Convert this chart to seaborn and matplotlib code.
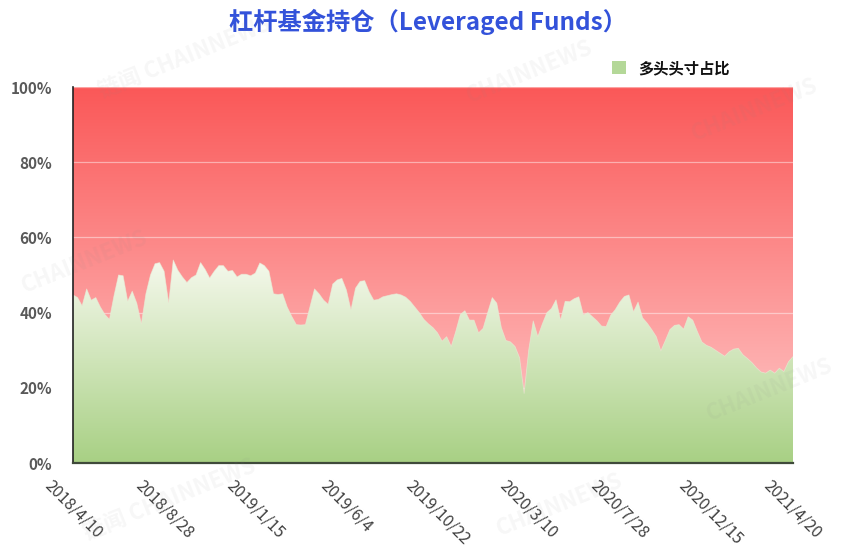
import numpy as np
import pandas as pd
import matplotlib
matplotlib.use("Agg")
import matplotlib.pyplot as plt
import seaborn as sns
from matplotlib.colors import LinearSegmentedColormap
from matplotlib.patches import Patch

# ---- data (weekly long-position share of leveraged funds, %) ----
long_share = [
    44.7, 44.0, 41.8, 46.3, 43.3, 44.0, 41.5, 39.5, 38.2, 44.5,
    50.0, 49.8, 43.0, 45.7, 42.5, 37.0, 45.0, 50.0, 53.0, 53.3,
    51.0, 42.5, 54.0, 51.3, 49.5, 48.0, 49.3, 50.0, 53.3, 51.5,
    49.2, 51.0, 52.5, 52.5, 51.0, 51.2, 49.5, 50.2, 50.2, 49.8,
    50.5, 53.2, 52.5, 51.0, 45.0, 44.8, 45.0, 41.5, 39.0, 36.8,
    36.7, 36.8, 41.5, 46.3, 45.0, 43.3, 42.2, 47.6, 48.7, 49.1,
    46.0, 40.7, 46.5, 48.3, 48.5, 45.5, 43.3, 43.5, 44.2, 44.5,
    44.8, 45.0, 44.7, 44.1, 43.0, 41.5, 40.0, 38.2, 37.0, 36.0,
    34.6, 32.4, 33.6, 31.0, 35.0, 39.5, 40.5, 38.0, 38.0, 34.6,
    35.8, 40.0, 44.0, 42.5, 36.0, 32.6, 32.2, 31.0, 28.0, 18.5,
    30.0, 37.8, 33.6, 37.0, 40.0, 41.1, 43.4, 38.0, 43.0, 42.9,
    43.7, 44.2, 39.4, 40.0, 38.9, 37.8, 36.4, 36.3, 39.3, 40.8,
    42.8, 44.3, 44.7, 40.2, 42.8, 38.6, 37.2, 35.5, 33.6, 29.8,
    32.6, 35.5, 36.6, 36.8, 35.6, 38.9, 38.0, 35.0, 32.2, 31.3,
    30.8, 30.0, 29.2, 28.4, 29.6, 30.3, 30.5, 28.8, 27.8, 26.7,
    25.3, 24.2, 23.9, 24.7, 23.9, 25.2, 24.3, 26.9, 28.3,
]
weeks = pd.date_range("2018-04-10", periods=len(long_share), freq="7D")
tick_dates = ["2018-04-10", "2018-08-28", "2019-01-15", "2019-06-04", "2019-10-22",
              "2020-03-10", "2020-07-28", "2020-12-15", "2021-04-20"]
tick_labels = ["2018/4/10", "2018/8/28", "2019/1/15", "2019/6/4", "2019/10/22",
               "2020/3/10", "2020/7/28", "2020/12/15", "2021/4/20"]
y_ticks = [0, 20, 40, 60, 80, 100]
y_labels = ["0%", "20%", "40%", "60%", "80%", "100%"]

title = "杠杆基金持仓（Leveraged Funds）"
legend_label = "多头头寸占比"

df = pd.DataFrame({"week": weeks, "share": long_share})
df["pos"] = np.arange(len(df))

# ---- style ----
sns.set_theme(style="white")
plt.rcParams["font.family"] = ["Noto Sans CJK SC", "DejaVu Sans"]

W, H = 855, 554
fig = plt.figure(figsize=(W / 100, H / 100), dpi=100)
ax = fig.add_axes([73 / W, 1 - 463 / H, (793 - 73) / W, (463 - 87) / H])

n_last = len(df) - 1
ax.set_xlim(0, n_last)
ax.set_ylim(0, 100)

# red gradient background
red_cmap = LinearSegmentedColormap.from_list(
    "reds", [(255 / 255, 205 / 255, 205 / 255), (250 / 255, 88 / 255, 88 / 255)])
grad = np.linspace(0, 1, 256).reshape(-1, 1)
ax.imshow(grad, extent=[0, n_last, 0, 100], origin="lower", aspect="auto",
          cmap=red_cmap, zorder=0, interpolation="bilinear")

# gridlines
for yv in [20, 40, 60, 80, 100]:
    ax.axhline(yv, color=(1, 1, 1, 0.45), lw=0.9, zorder=1)

# green gradient area
poly = ax.fill_between(df["pos"], df["share"], 0, color="none", lw=0, zorder=2)
green_cmap = LinearSegmentedColormap.from_list(
    "greens", [(168 / 255, 208 / 255, 132 / 255), (248 / 255, 250 / 255, 240 / 255)])
im = ax.imshow(grad, extent=[0, n_last, 0, 56], origin="lower", aspect="auto",
               cmap=green_cmap, zorder=2, interpolation="bilinear")
im.set_clip_path(poly.get_paths()[0], transform=ax.transData)
ax.set_ylim(0, 100)
ax.set_xlim(0, n_last)

sns.lineplot(data=df, x="pos", y="share", ax=ax, color="#E8EFDA", lw=0.6,
             alpha=0.6, zorder=3)

# axes styling
for s in ["top", "right"]:
    ax.spines[s].set_visible(False)
ax.spines["left"].set_color("#222222")
ax.spines["left"].set_linewidth(1.2)
ax.spines["bottom"].set_color("#3f4a3a")
ax.spines["bottom"].set_linewidth(1.6)
for s in ["left", "bottom"]:
    ax.spines[s].set_zorder(5)

tick_pos = [int(df.index[df["week"] == pd.Timestamp(d)][0]) for d in tick_dates]
ax.set_xticks(tick_pos)
ax.set_xticklabels(tick_labels, rotation=-45, ha="center", va="top",
                   fontsize=11.5, color="#404040")
ax.set_yticks(y_ticks)
ax.set_yticklabels(y_labels, fontsize=11, color="#595959", fontweight="bold")
ax.tick_params(axis="both", length=0)
ax.tick_params(axis="x", pad=10)
ax.tick_params(axis="y", pad=15)
ax.set_xlabel("")
ax.set_ylabel("")
ax.grid(False)

# title
fig.text(0.5, 1 - 22 / H, title, ha="center", va="center", fontsize=17.5,
         fontweight="bold", color="#3352DA")

# legend
handle = Patch(facecolor="#B4D898", edgecolor="none")
fig.legend([handle], [legend_label], loc="center left",
           bbox_to_anchor=(598 / W, 1 - 68 / H), frameon=False,
           prop={"size": 11, "weight": "bold"}, handlelength=0.9,
           handleheight=0.9, handletextpad=0.8, labelcolor="#111111")

# faint watermarks
wm = [(185, 58, "链闻 CHAINNEWS"), (530, 72, "CHAINNEWS"), (85, 262, "CHAINNEWS"),
      (755, 110, "CHAINNEWS"), (170, 500, "链闻 CHAINNEWS"), (560, 505, "CHAINNEWS"),
      (770, 390, "CHAINNEWS")]
for x, y, t in wm:
    fig.text(x / W, 1 - y / H, t, ha="center", va="center", fontsize=16,
             rotation=22, color="#888888", alpha=0.07, fontweight="bold", zorder=10)

fig.savefig("out.png", dpi=100)
